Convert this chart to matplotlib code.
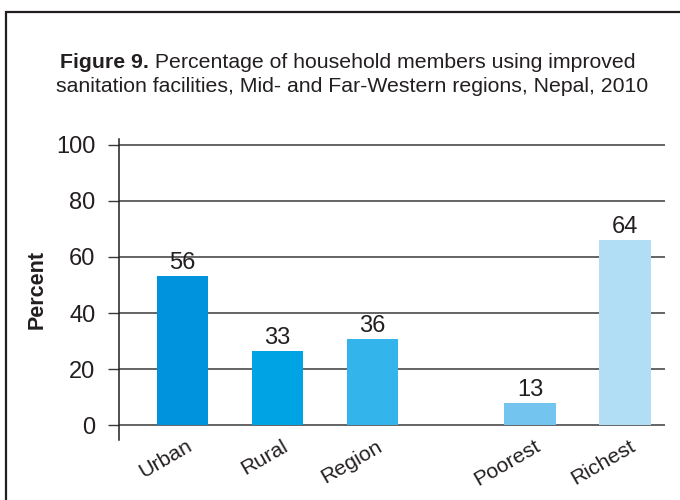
import matplotlib
matplotlib.use("Agg")
import matplotlib.pyplot as plt
from matplotlib.patches import Rectangle
from matplotlib.transforms import ScaledTranslation

plt.rcParams['font.family'] = ['Liberation Sans', 'DejaVu Sans']

# data
categories = ['Urban', 'Rural', 'Region', 'Poorest', 'Richest']
positions = [0, 1, 2, 3.66, 4.66]
bar_heights = [53.2, 26.5, 30.8, 8.0, 66.1]
value_labels = ['56', '33', '36', '13', '64']
colors = ['#0093dd', '#00a4e4', '#33b4ea', '#73c4ee', '#b2def5']
yticks = [0, 20, 40, 60, 80, 100]

txt = '#231f20'
fig = plt.figure(figsize=(6.8, 5), dpi=100)
fig.patch.set_facecolor('white')

# outer frame (cropped at right and bottom)
fig.patches.append(Rectangle((6 / 680, -0.1), 1.2, 1 - 12 / 500 + 0.1,
                             transform=fig.transFigure, fill=False,
                             edgecolor=txt, linewidth=1.6))

# title: bold "Figure 9." followed by normal text, line centred
title_size = 15.3
bold = fig.text(0, 0.874, 'Figure 9.', fontsize=title_size, fontweight='bold',
                ha='left', va='center', color=txt)
rest = fig.text(0, 0.874, ' Percentage of household members using improved',
                fontsize=title_size, ha='left', va='center', color=txt)
fig.canvas.draw()
r = fig.canvas.get_renderer()
wb = bold.get_window_extent(r).width
wr = rest.get_window_extent(r).width
x0 = 348 - (wb + wr) / 2
bold.set_x(x0 / 680)
rest.set_x((x0 + wb) / 680)
fig.text(352 / 680, 0.826,
         'sanitation facilities, Mid- and Far-Western regions, Nepal, 2010',
         fontsize=title_size, ha='center', va='center', color=txt)

ax = fig.add_axes([0.175, 0.121, 0.803, 0.601])
ax.bar(positions, bar_heights, width=0.54, color=colors, zorder=3)
for x, h, lab in zip(positions, bar_heights, value_labels):
    ax.annotate(lab, (x, h), xytext=(0, 1.5), textcoords='offset points',
                ha='center', va='bottom', fontsize=17, color=txt)

ax.set_xlim(-0.668, 5.08)
ax.set_ylim(-5, 102)
ax.set_yticks(yticks)
ax.set_yticklabels([str(t) for t in yticks], fontsize=17, color=txt)
ax.tick_params(axis='y', length=8, width=1, color='#3a3a3a', pad=9)
ax.yaxis.grid(True, color='#3a3a3a', linewidth=1.1, zorder=1)
ax.set_axisbelow(True)

ax.set_xticks(positions)
ax.set_xticklabels(categories, rotation=30, ha='right', va='top',
                   rotation_mode='anchor', fontsize=15.3, color=txt)
ax.tick_params(axis='x', length=0, pad=0)
shift = ScaledTranslation(4 / 100, 3 / 100, fig.dpi_scale_trans)
for lab in ax.get_xticklabels():
    lab.set_transform(lab.get_transform() + shift)

for s in ['top', 'right', 'bottom']:
    ax.spines[s].set_visible(False)
ax.spines['left'].set_color(txt)
ax.spines['left'].set_linewidth(1.1)

ax.set_ylabel('Percent', fontsize=15.5, fontweight='bold', color=txt, labelpad=6)

fig.savefig('out.png', dpi=100)
